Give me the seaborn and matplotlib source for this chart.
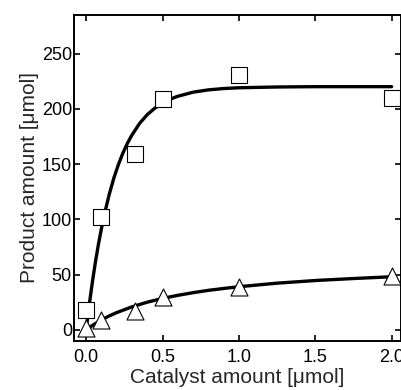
import numpy as np
import pandas as pd
import matplotlib
matplotlib.use("Agg")
import matplotlib.pyplot as plt
import seaborn as sns

# measured points
cat_x = [0.0, 0.1, 0.32, 0.5, 1.0, 2.0]
sq_y = [18, 102, 159, 209, 231, 210]
tri_y = [2, 9, 17, 30, 39, 49]

# fitted curves
fit_sq_x = [0.0, 0.01, 0.02, 0.04, 0.06, 0.08, 0.1, 0.12, 0.15, 0.18, 0.21, 0.24,
            0.27, 0.3, 0.35, 0.4, 0.45, 0.5, 0.55, 0.6, 0.7, 0.8, 0.9, 1.0, 1.25, 1.5, 2.0]
fit_sq_y = [0, 11.6, 22.5, 42.7, 60.9, 77.2, 91.7, 104.9, 122, 136.8, 149.2, 159.8,
            168.8, 176.3, 186.8, 194.7, 200.6, 205, 208.7, 211.3, 215, 217.1, 218.3, 219, 219.7, 220, 220]
fit_tri_x = [0.0, 0.05, 0.1, 0.15, 0.2, 0.3, 0.4, 0.5, 0.6, 0.7, 0.8, 0.9, 1.0,
             1.25, 1.5, 1.75, 2.0]
fit_tri_y = [0, 4.8, 8.9, 12.5, 15.6, 20.8, 25, 28.4, 31.2, 33.6, 35.7, 37.4, 39,
             42.2, 44.6, 46.4, 48]

x_ticks = [0.0, 0.5, 1.0, 1.5, 2.0]
y_ticks = [0, 50, 100, 150, 200, 250]

sns.set_theme(style="ticks")
plt.rcParams['font.family'] = ['Liberation Sans', 'DejaVu Sans']

fig = plt.figure(figsize=(4.02, 3.90), dpi=100)
ax = fig.add_axes([0.184, 0.126, 0.813, 0.836])

sns.lineplot(x=fit_sq_x, y=fit_sq_y, ax=ax, color='black', linewidth=2.4, zorder=2)
sns.lineplot(x=fit_tri_x, y=fit_tri_y, ax=ax, color='black', linewidth=2.4, zorder=2)
sns.scatterplot(x=cat_x, y=sq_y, ax=ax, marker='s', s=135, facecolor='white',
                edgecolor='black', linewidth=0.8, zorder=3)
sns.scatterplot(x=cat_x, y=tri_y, ax=ax, marker='^', s=150, facecolor='white',
                edgecolor='black', linewidth=0.8, zorder=3)

ax.set_xlim(-0.08, 2.06)
ax.set_ylim(-10, 285)
ax.set_xticks(x_ticks)
ax.set_xticklabels([f"{v:.1f}" for v in x_ticks])
ax.set_yticks(y_ticks)
ax.tick_params(direction='in', length=4, width=1.2, top=True, right=True,
               labelsize=13, colors='black')
ax.tick_params(axis='x', labeltop=False, pad=6)
ax.tick_params(axis='y', labelright=False, pad=1.5)
for s in ax.spines.values():
    s.set_linewidth(1.4)
    s.set_color('black')
ax.set_xlabel("Catalyst amount [\u03bcmol]", fontsize=15, labelpad=1.5)
ax.set_ylabel("Product amount [\u03bcmol]", fontsize=15, labelpad=2)

fig.savefig("out.png", dpi=100)
